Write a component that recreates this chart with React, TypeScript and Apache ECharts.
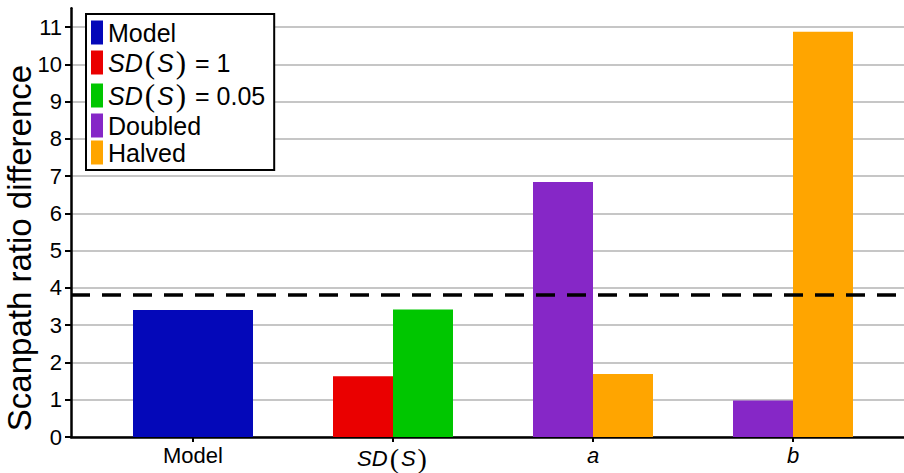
import React, { useEffect, useRef } from "react";
import * as echarts from "echarts";

const categories = ["Model", "SD(S)", "a", "b"];
const modelValues = [3.41, "-", "-", "-"];
const sd1Values = ["-", 1.63, "-", "-"];
const sd005Values = ["-", 3.42, "-", "-"];
const doubledValues = ["-", "-", 6.84, 0.98];
const halvedValues = ["-", "-", 1.69, 10.87];
const thresholdValue = 3.82;
const yAxisTitle = "Scanpath ratio difference";

const FONT = "'Liberation Sans', Arial, sans-serif";
const SERIF = "'Liberation Serif', 'Times New Roman', serif";

export default function App() {
  const ref = useRef<HTMLDivElement>(null);

  useEffect(() => {
    if (!ref.current) return;
    const chart = echarts.init(ref.current, null, { renderer: "svg" });
    const bottom = 36;
    const top1 = 27;
    const unit = (473 - bottom - top1) / 11;
    const top0 = 473 - bottom - 11.5 * unit;

    const legendFormatter = (name: string) => {
      if (name.startsWith("SD(S)")) {
        return "{i|SD}{p|(}{i|S}{p|)}{s|" + name.slice(5) + "}";
      }
      return "{n|" + name + "}";
    };
    const xFormatter = (v: string) => {
      if (v === "SD(S)") return "{i|SD}{p|(}{i|S}{p|)}";
      if (v === "a" || v === "b") return "{i|" + v + "}";
      return "{n|" + v + "}";
    };

    const option: any = {
      animation: false,
      backgroundColor: "#ffffff",
      grid: [
        { left: 71, right: 0, top: top0, bottom, outerBoundsMode: "none", containLabel: false },
        { left: 71, right: 0, top: top1, bottom, outerBoundsMode: "none", containLabel: false },
        { left: 93, right: 11, top: top1, bottom, outerBoundsMode: "none", containLabel: false },
      ],
      legend: {
        orient: "vertical",
        left: 86,
        top: 14,
        padding: [6, 9, 5, 5],
        borderColor: "#000",
        borderWidth: 2,
        borderRadius: 0,
        backgroundColor: "#fff",
        itemGap: 2,
        itemWidth: 12,
        itemHeight: 24,
        icon: "rect",
        data: ["Model", "SD(S) = 1", "SD(S) = 0.05", "Doubled", "Halved"],
        formatter: legendFormatter,
        textStyle: {
          color: "#000",
          fontFamily: FONT,
          fontSize: 25,
          rich: {
            n: { fontFamily: FONT, fontSize: 25, color: "#000", lineHeight: 27 },
            s: { fontFamily: FONT, fontSize: 25, color: "#000", lineHeight: 34 },
            i: { fontFamily: FONT, fontSize: 25, fontStyle: "italic", color: "#000", lineHeight: 34 },
            p: { fontFamily: SERIF, fontSize: 31, color: "#000", lineHeight: 34, padding: [0, 2, 0, 2] },
          },
        },
      },
      xAxis: [
        { gridIndex: 0, type: "value", min: 0, max: 1, show: false },
        {
          gridIndex: 1,
          type: "value",
          min: 0,
          max: 1,
          axisLine: { show: true, lineStyle: { color: "#000", width: 2.5 } },
          axisTick: { show: false },
          axisLabel: { show: false },
          splitLine: { show: false },
        },
        {
          gridIndex: 2,
          type: "category",
          data: categories,
          axisLine: { show: false },
          axisTick: { show: true, alignWithLabel: true, length: 5, lineStyle: { color: "#000", width: 2 } },
          axisLabel: {
            margin: 7,
            formatter: xFormatter,
            rich: {
              n: { fontFamily: FONT, fontSize: 22, color: "#000" },
              i: { fontFamily: FONT, fontSize: 22, fontStyle: "italic", color: "#000" },
              p: { fontFamily: SERIF, fontSize: 28, color: "#000", padding: [0, 2, 0, 2] },
            },
          },
        },
        { gridIndex: 2, type: "category", data: categories, show: false },
      ],
      yAxis: [
        {
          gridIndex: 0,
          type: "value",
          min: 0,
          max: 11.5,
          axisLine: { show: true, lineStyle: { color: "#000", width: 2.5 } },
          axisTick: { show: false },
          axisLabel: { show: false },
          splitLine: { show: false },
        },
        {
          gridIndex: 1,
          type: "value",
          min: 0,
          max: 11,
          interval: 1,
          axisLine: { show: false },
          axisTick: { show: true, length: 6, lineStyle: { color: "#000", width: 2 } },
          axisLabel: { margin: 9, color: "#000", fontFamily: FONT, fontSize: 22 },
          splitLine: { show: true, lineStyle: { color: "#c6c6c6", width: 2 } },
        },
        { gridIndex: 2, type: "value", min: 0, max: 11, show: false },
      ],
      graphic: [
        {
          type: "text",
          x: 19,
          y: 248,
          rotation: Math.PI / 2,
          style: {
            text: yAxisTitle,
            fontFamily: FONT,
            fontSize: 33,
            fill: "#000",
            align: "center",
            verticalAlign: "middle",
          },
        },
      ],
      series: [
        {
          name: "threshold",
          type: "line",
          xAxisIndex: 1,
          yAxisIndex: 1,
          data: [],
          silent: true,
          markLine: {
            silent: true,
            symbol: "none",
            label: { show: false },
            lineStyle: { color: "#000", width: 3.5, type: [19, 12] },
            data: [{ yAxis: thresholdValue }],
          },
        },
        {
          name: "Model",
          type: "bar",
          xAxisIndex: 3,
          yAxisIndex: 2,
          barWidth: 120,
          data: modelValues,
          itemStyle: { color: "#0408b9" },
        },
        {
          name: "SD(S) = 1",
          type: "bar",
          xAxisIndex: 2,
          yAxisIndex: 2,
          stack: "L",
          barWidth: 60,
          barGap: 0,
          data: sd1Values,
          itemStyle: { color: "#ea0000" },
        },
        {
          name: "SD(S) = 0.05",
          type: "bar",
          xAxisIndex: 2,
          yAxisIndex: 2,
          stack: "R",
          barWidth: 60,
          barGap: 0,
          data: sd005Values,
          itemStyle: { color: "#00c600" },
        },
        {
          name: "Doubled",
          type: "bar",
          xAxisIndex: 2,
          yAxisIndex: 2,
          stack: "L",
          barWidth: 60,
          barGap: 0,
          data: doubledValues,
          itemStyle: { color: "#8627c7" },
        },
        {
          name: "Halved",
          type: "bar",
          xAxisIndex: 2,
          yAxisIndex: 2,
          stack: "R",
          barWidth: 60,
          barGap: 0,
          data: halvedValues,
          itemStyle: { color: "#ffa500" },
        },
      ],
    };
    chart.setOption(option);
    return () => chart.dispose();
  }, []);

  return (
    <div
      ref={ref}
      style={{ position: "fixed", left: 0, top: 0, width: 904, height: 473, background: "#fff" }}
    />
  );
}
